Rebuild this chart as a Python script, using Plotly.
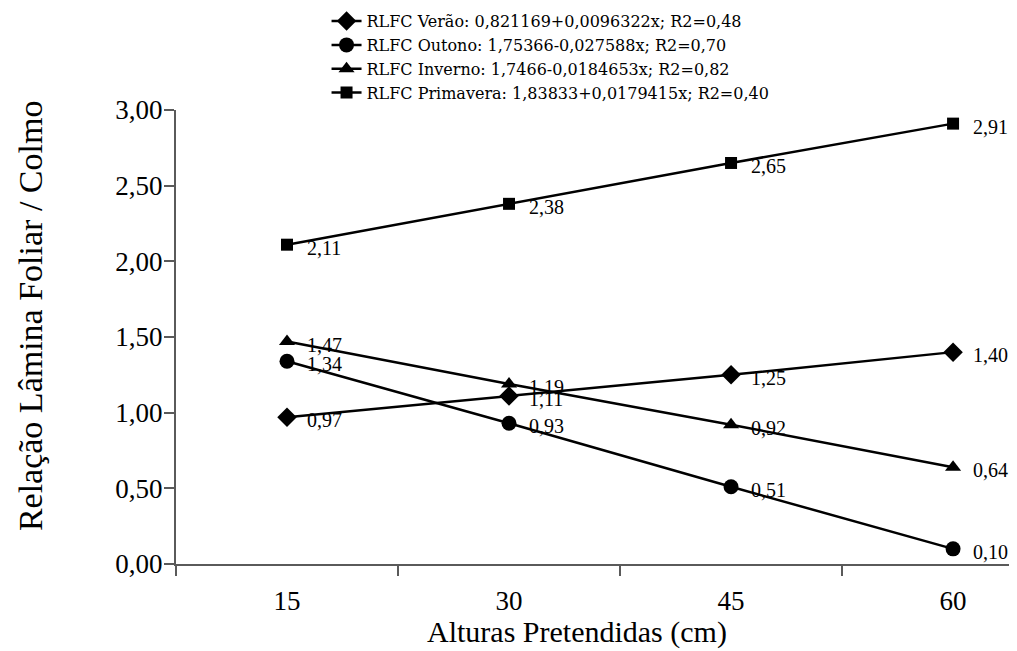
import plotly.graph_objects as go

alturas = [15, 30, 45, 60]
series_names = [
    "RLFC Verão: 0,821169+0,0096322x; R2=0,48",
    "RLFC Outono: 1,75366-0,027588x; R2=0,70",
    "RLFC Inverno: 1,7466-0,0184653x; R2=0,82",
    "RLFC Primavera: 1,83833+0,0179415x; R2=0,40",
]
verao = [0.97, 1.11, 1.25, 1.40]
outono = [1.34, 0.93, 0.51, 0.10]
inverno = [1.47, 1.19, 0.92, 0.64]
primavera = [2.11, 2.38, 2.65, 2.91]
y_ticks = [0, 0.5, 1.0, 1.5, 2.0, 2.5, 3.0]
x_tick_labels = ["15", "30", "45", "60"]
x_boundaries = [7.5, 22.5, 37.5, 52.5]

values = [verao, outono, inverno, primavera]
symbols = ["diamond", "circle", "triangle-up", "square"]
sizes = [15, 15, 14, 12]

SERIF = "Liberation Serif, Times New Roman, serif"

fig = go.Figure()
for name, vals, sym, sz in zip(series_names, values, symbols, sizes):
    fig.add_trace(go.Scatter(
        x=alturas, y=vals, name=name, mode="lines+markers",
        line=dict(color="black", width=2.5),
        marker=dict(symbol=sym, size=sz, color="black"),
        cliponaxis=False,
    ))
    for xv, yv in zip(alturas, vals):
        fig.add_annotation(
            x=xv, y=yv, xref="x", yref="y",
            text=f"{yv:.2f}".replace(".", ","),
            showarrow=False, xanchor="left", yanchor="middle",
            xshift=18, yshift=-3,
            font=dict(family=SERIF, size=20, color="black"),
        )

fig.add_annotation(
    text="Relação Lâmina Foliar / Colmo", textangle=-90,
    xref="paper", yref="paper", x=-0.1736, y=0.546,
    xanchor="center", yanchor="middle", showarrow=False,
    font=dict(family=SERIF, size=34, color="black"),
)
fig.add_annotation(
    text="Alturas Pretendidas (cm)",
    xref="paper", yref="paper", x=0.477, y=-0.15,
    xanchor="center", yanchor="middle", showarrow=False,
    font=dict(family=SERIF, size=30, color="black"),
)

fig.update_layout(
    width=1009, height=643,
    margin=dict(l=168, r=0, t=102, b=87, autoexpand=False),
    paper_bgcolor="white", plot_bgcolor="white",
    separators=",.",
    showlegend=True,
    legend=dict(
        x=0.179, y=1.233, xanchor="left", yanchor="top",
        font=dict(family="DejaVu Serif, serif", size=16, color="black"),
        bgcolor="rgba(0,0,0,0)", tracegroupgap=0,
    ),
    xaxis=dict(
        range=[7.5, 64.32], tickvals=alturas, ticktext=x_tick_labels,
        ticks="", showgrid=False, zeroline=False,
        showline=True, linecolor="#5a5a5a", linewidth=2,
        tickfont=dict(family=SERIF, size=27, color="black"),
        ticklabelstandoff=12,
        minor=dict(tickvals=x_boundaries, ticks="outside", ticklen=10,
                   tickwidth=2, tickcolor="#5a5a5a", showgrid=False),
    ),
    yaxis=dict(
        range=[0, 3.0], tickvals=y_ticks, tickformat=".2f",
        ticks="outside", ticklen=10, tickwidth=2, tickcolor="#5a5a5a",
        showgrid=False, zeroline=False,
        showline=True, linecolor="#5a5a5a", linewidth=2,
        tickfont=dict(family=SERIF, size=27, color="black"),
        ticklabelstandoff=-4,
    ),
)

fig.write_html("out.html")
